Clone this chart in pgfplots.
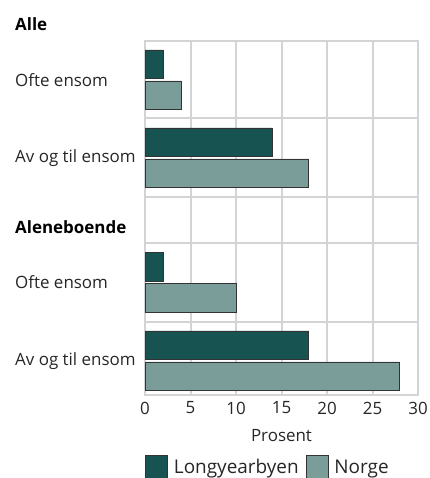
\documentclass[border=0pt]{standalone}
\usepackage{pgfplots}
\pgfplotsset{compat=1.18}
\usepackage{fontspec}
\setmainfont{Open Sans}
\definecolor{darkbar}{HTML}{175350}
\definecolor{lightbar}{HTML}{7A9D99}
\definecolor{gridgray}{HTML}{D3D4D6}
\definecolor{edge}{HTML}{333333}
\newcommand\ff{\fontsize{17}{20}\selectfont}
\newcommand\fl{\fontsize{19}{22}\selectfont}
\begin{document}
\ff
\begin{tikzpicture}
\path[use as bounding box] (0,0) rectangle (430bp,478bp);
\begin{axis}[
  at={(145bp,83bp)}, anchor=south west,
  scale only axis, width=273bp, height=354bp,
  xbar, xmin=0, xmax=30,
  ymin=41, ymax=395, y dir=reverse,
  bar width=28.5,
  clip=false,
  axis line style={gridgray, line width=2bp},
  xtick={0,5,...,30},
  xmajorgrids, grid style={gridgray, line width=2bp},
  major tick length=0pt,
  ytick={79.7,157.7,282.5,360.7},
  yticklabels={Ofte ensom, Av og til ensom, Ofte ensom, Av og til ensom},
  yticklabel style={anchor=west, inner sep=0pt, xshift=-130bp, font=\ff, text=black!85},
  extra y ticks={118,197,243,322},
  extra y tick labels={},
  extra y tick style={ymajorgrids=true},
  xticklabel style={font=\ff, text=black!85, yshift=-1bp},
  /pgf/number format/assume math mode=true,
  xlabel={Prosent},
  xlabel style={font=\ff, text=black!85, yshift=-4bp},
  legend style={draw=none, fill=none, at={(0,-0.17)}, anchor=north west,
    legend columns=2, font=\fl, text=black!85,
    /tikz/every even column/.append style={column sep=5bp},
    /tikz/every odd column/.append style={column sep=4bp},
    inner sep=0pt, cells={anchor=west}},
  legend image code/.code={\draw[#1] (0bp,-12bp) rectangle (22bp,12bp);},
]
\addplot[fill=darkbar, draw=edge, line width=0.8bp, bar shift=-15.5] coordinates {(2,79.7) (14,157.7) (2,282.5) (18,360.7)};
\addplot[fill=lightbar, draw=edge, line width=0.8bp, bar shift=15.5] coordinates {(4,79.7) (18,157.7) (10,282.5) (28,360.7)};
\legend{Longyearbyen, Norge}
\node[anchor=west, inner sep=0pt, font=\bfseries\ff] at ([xshift=-130bp]axis cs:0,24) {Alle};
\node[anchor=west, inner sep=0pt, font=\bfseries\ff] at ([xshift=-130bp]axis cs:0,227) {Aleneboende};
\end{axis}
\end{tikzpicture}
\end{document}
